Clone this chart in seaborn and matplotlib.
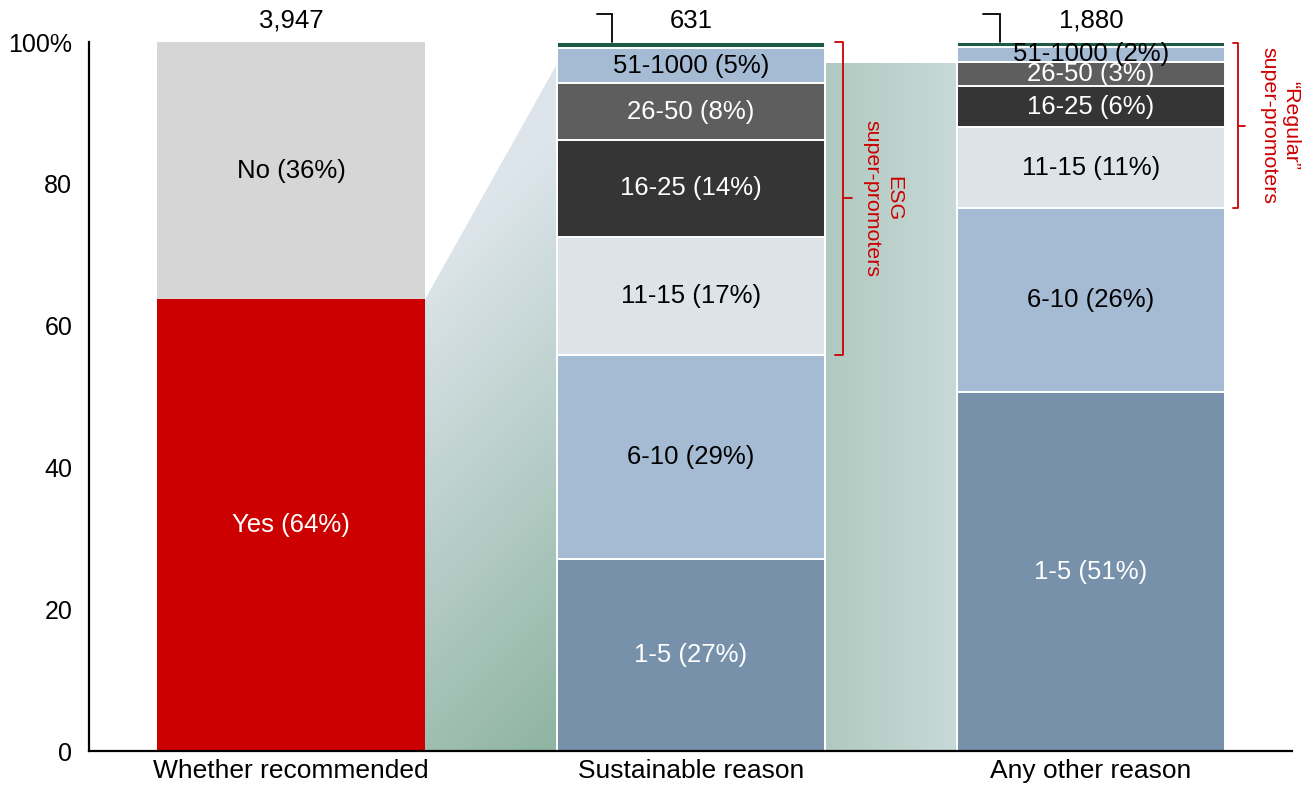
import numpy as np
import pandas as pd
import matplotlib
matplotlib.use("Agg")
import matplotlib.pyplot as plt
from matplotlib.patches import Polygon
from matplotlib.colors import to_rgb
import seaborn as sns

# ---- data -----------------------------------------------------------------
categories = ["Whether recommended", "Sustainable reason", "Any other reason"]
totals = [3947, 631, 1880]

recommend_labels = ["Yes", "No"]
recommend_values = [63.7, 36.3]

bucket_labels = ["1-5", "6-10", "11-15", "16-25", "26-50", "51-1000", "1000+"]
sustainable_values = [27.1, 28.8, 16.6, 13.7, 8.0, 4.9, 0.9]
other_values = [50.6, 26.0, 11.4, 5.8, 3.4, 2.1, 0.7]

yticks = [0, 20, 40, 60, 80, 100]
ytick_labels = ["0", "20", "40", "60", "80", "100%"]

# ---- styling --------------------------------------------------------------
recommend_colors = ["#cc0000", "#d6d6d6"]
recommend_text = ["white", "black"]
bucket_colors = ["#7791ab", "#a5bbd4", "#dce4ea", "#353535", "#5e5e5e", "#a5bbd4", "#1d5a45"]
bucket_text = ["white", "black", "black", "white", "white", "black", None]
RED = "#cc0000"
BAR_W = 0.67

sns.set_style("white")
plt.rcParams["font.family"] = ["Liberation Sans", "DejaVu Sans"]
plt.rcParams["text.color"] = "black"
plt.rcParams["xtick.color"] = "black"
plt.rcParams["ytick.color"] = "black"
plt.rcParams["axes.labelcolor"] = "black"

fig = plt.figure(figsize=(13.07, 7.87), dpi=100)
ax = fig.add_axes([0.0681, 0.0457, 0.9204, 0.9009])

# long-form table of stacked segments
rows = []
for lab, val, col, tc in zip(recommend_labels, recommend_values, recommend_colors, recommend_text):
    rows.append(dict(cat=categories[0], seg=lab, value=val, color=col, tcolor=tc, lw=0))
for cat, vals in ((categories[1], sustainable_values), (categories[2], other_values)):
    for lab, val, col, tc in zip(bucket_labels, vals, bucket_colors, bucket_text):
        rows.append(dict(cat=cat, seg=lab, value=val, color=col, tcolor=tc, lw=1.4))
df = pd.DataFrame(rows)
df["top"] = df.groupby("cat")["value"].cumsum()
df["bottom"] = df["top"] - df["value"]

# stacked bars: draw cumulative heights from tallest to shortest
for _, r in df.sort_values("top", ascending=False).iterrows():
    sns.barplot(data=pd.DataFrame({"cat": [r["cat"]], "top": [r["top"]]}),
                x="cat", y="top", order=categories, color=r["color"],
                saturation=1, width=BAR_W, edgecolor="white",
                linewidth=r["lw"], errorbar=None, ax=ax, zorder=2)

ax.set_xlim(-0.505, 2.5025)
ax.set_ylim(0, 100)
ax.set_xlabel("")
ax.set_ylabel("")

# segment labels
pos = {c: i for i, c in enumerate(categories)}
for _, r in df.iterrows():
    if r["tcolor"] is None:
        continue
    ax.text(pos[r["cat"]], r["bottom"] + r["value"] / 2,
            f"{r['seg']} ({r['value']:.0f}%)", ha="center", va="center",
            color=r["tcolor"], fontsize=18.5, zorder=5)

# totals above bars, with small corner markers on the split bars
for i, n in enumerate(totals):
    ax.text(i, 103.0, f"{n:,}", ha="center", va="center", fontsize=18.5,
            clip_on=False)
marker_offsets = {1: (-0.235, -0.1975), 2: (-0.27, -0.2275)}
for i, (a, b) in marker_offsets.items():
    ax.plot([i + a, i + b, i + b], [103.95, 103.95, 100], color="black",
            lw=1.3, clip_on=False, solid_joinstyle="miter")

# shaded connectors between the bars
conn_top = 96.9
fig.canvas.draw()
x0, x1 = 0 + BAR_W / 2, 1 - BAR_W / 2
poly1 = Polygon([(x0, 0), (x0, recommend_values[0]), (x1, conn_top), (x1, 0)],
                closed=True, facecolor="none", edgecolor="none")
ax.add_patch(poly1)
nx, ny = 200, 400
gx = np.linspace(x0, x1, nx)
gy = np.linspace(conn_top, 0, ny)
GX, GY = np.meshgrid(gx, gy)
pix = ax.transData.transform(np.column_stack([GX.ravel(), GY.ravel()]))
px = pix[:, 0].reshape(GX.shape)
py = -pix[:, 1].reshape(GX.shape)
d = (px - px.min()) + (py - py.min())
t = np.clip((d / d.max() - 0.25) / 0.75, 0, 1)[..., None]
c_light, c_dark = np.array(to_rgb("#dde5eb")), np.array(to_rgb("#8eb4a2"))
img1 = c_light * (1 - t) + c_dark * t
im1 = ax.imshow(img1, extent=[x0, x1, 0, conn_top], aspect="auto",
                interpolation="bilinear", zorder=1)
im1.set_clip_path(poly1)

x2, x3 = 1 + BAR_W / 2, 2 - BAR_W / 2 - 0.004
u = np.linspace(0, 1, 200)[None, :, None]
c_left, c_right = np.array(to_rgb("#b0c9c0")), np.array(to_rgb("#c8d9d7"))
img2 = np.repeat(c_left * (1 - u) + c_right * u, 2, axis=0)
ax.imshow(img2, extent=[x2, x3, 0, conn_top], aspect="auto",
          interpolation="bilinear", zorder=1)
ax.set_xlim(-0.505, 2.5025)
ax.set_ylim(0, 100)

# red braces marking the super-promoter groups
def brace(x, xl, xr, y_lo, y_hi):
    ym = (y_lo + y_hi) / 2
    ax.plot([xl, x, x, xl], [y_hi, y_hi, y_lo, y_lo], color=RED, lw=1.3,
            clip_on=False, zorder=6)
    ax.plot([x, xr], [ym, ym], color=RED, lw=1.3, clip_on=False, zorder=6)
    return ym

s_cum = np.cumsum(sustainable_values)
o_cum = np.cumsum(other_values)
ym = brace(1.38, 1.36, 1.4025, s_cum[1], 100)
ax.text(1.48, ym, "ESG\nsuper-promoters", rotation=-90, ha="center",
        va="center", color=RED, fontsize=15.4, linespacing=1.15, zorder=6)
ym = brace(2.3675, 2.355, 2.385, o_cum[1], 99.8)
ax.text(2.4725, ym, "\u201cRegular\u201d\nsuper-promoters", rotation=-90,
        ha="center", va="center", color=RED, fontsize=15.4, linespacing=1.15,
        clip_on=False, zorder=6)

# axes cosmetics
sns.despine(ax=ax)
for side in ("left", "bottom"):
    ax.spines[side].set_linewidth(1.6)
    ax.spines[side].set_color("black")
    ax.spines[side].set_zorder(7)
ax.set_yticks(yticks)
ax.set_yticklabels(ytick_labels, fontsize=18, color="black")
ax.tick_params(axis="y", length=0, pad=12)
ax.set_xticks(range(len(categories)))
ax.set_xticklabels(categories, fontsize=19, color="black")
ax.tick_params(axis="x", length=4, width=1.2, color="black", pad=2)
ax.grid(False)

fig.savefig("out.png", dpi=100)
